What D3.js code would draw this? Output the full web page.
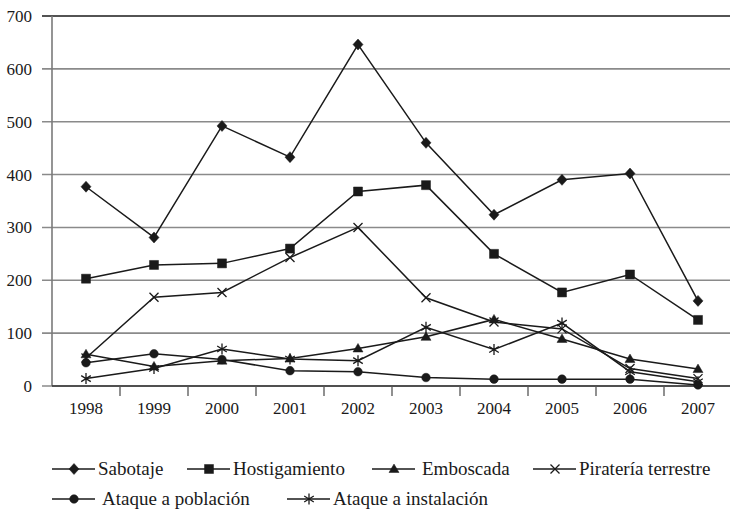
<!DOCTYPE html>
<html>
<head>
<meta charset="utf-8">
<script src="https://cdn.jsdelivr.net/npm/d3@7"></script>
<style>
    body { margin: 0; background: white; }
    svg { display: block; }
</style>
</head>
<body>
<div id="holder"></div>
<script>
const years = ["1998", "1999", "2000", "2001", "2002", "2003", "2004", "2005", "2006", "2007"];
const yTicks = [0, 100, 200, 300, 400, 500, 600, 700];

const sabotaje = [377, 281, 492, 433, 646, 460, 324, 390, 402, 161];
const hostigamiento = [203, 229, 232, 260, 368, 380, 250, 177, 211, 125];
const emboscada = [60, 37, 48, 52, 71, 93, 126, 89, 51, 32];
const pirateria = [53, 168, 177, 243, 300, 167, 121, 108, 33, 14];
const poblacion = [44, 61, 50, 29, 27, 16, 13, 13, 13, 2];
const instalacion = [14, 33, 70, 51, 48, 111, 69, 119, 27, 8];

const seriesNames = ["Sabotaje", "Hostigamiento", "Emboscada", "Piratería terrestre", "Ataque a población", "Ataque a instalación"];
const seriesValues = [sabotaje, hostigamiento, emboscada, pirateria, poblacion, instalacion];

const width = 730;
const height = 510;
const plotLeft = 52;
const plotRight = 732;
const plotTop = 16;
const plotBottom = 386;
const serif = "Liberation Serif";

// custom marker shapes
const diamond = {
    draw(ctx, size) {
        ctx.moveTo(0, -5.5); ctx.lineTo(5, 0); ctx.lineTo(0, 5.5); ctx.lineTo(-5, 0); ctx.closePath();
    }
};
const square = {
    draw(ctx, size) {
        ctx.rect(-4.5, -4.5, 9, 9);
    }
};
const triangle = {
    draw(ctx, size) {
        ctx.moveTo(0, -5); ctx.lineTo(5, 3.5); ctx.lineTo(-5, 3.5); ctx.closePath();
    }
};
const circle = {
    draw(ctx, size) {
        ctx.moveTo(4.3, 0); ctx.arc(0, 0, 4.3, 0, 2 * Math.PI);
    }
};
const cross = {
    draw(ctx, size) {
        ctx.moveTo(-4.5, -4.5); ctx.lineTo(4.5, 4.5);
        ctx.moveTo(4.5, -4.5); ctx.lineTo(-4.5, 4.5);
    }
};
const star = {
    draw(ctx, size) {
        ctx.moveTo(0, -5.5); ctx.lineTo(0, 5.5);
        ctx.moveTo(-4.8, -3); ctx.lineTo(4.8, 3);
        ctx.moveTo(4.8, -3); ctx.lineTo(-4.8, 3);
    }
};
const markers = [
    { type: diamond, filled: true },
    { type: square, filled: true },
    { type: triangle, filled: true },
    { type: cross, filled: false },
    { type: circle, filled: true },
    { type: star, filled: false }
];

const xScale = d3.scaleBand()
                .domain(years)
                .range([plotLeft, plotRight]);
const yScale = d3.scaleLinear()
                .domain([0, 700])
                .range([plotBottom, plotTop]);

const svg = d3.select("#holder")
    .append("svg")
    .attr("width", width)
    .attr("height", height);

// gridlines
svg.append("g")
    .selectAll("line")
    .data(yTicks)
    .enter()
    .append("line")
    .attr("x1", plotLeft - 10)
    .attr("x2", width)
    .attr("y1", (d) => yScale(d))
    .attr("y2", (d) => yScale(d))
    .attr("stroke", (d) => d === 700 ? "#1a1a1a" : "#8a8a8a")
    .attr("stroke-width", (d) => d === 700 ? 1.3 : 1.6);

// y axis
const yAxis = d3.axisLeft(yScale)
                .tickValues(yTicks)
                .tickSize(10)
                .tickPadding(10);
svg.append("g")
    .attr("transform", `translate(${plotLeft}, 0)`)
    .call(yAxis)
    .call((g) => g.select(".domain").remove())
    .call((g) => g.selectAll(".tick line").remove())
    .call((g) => g.selectAll("text")
        .style("font-family", serif)
        .style("font-size", "17px")
        .attr("fill", "#1a1a1a"));

svg.append("line")
    .attr("x1", plotLeft)
    .attr("x2", plotLeft)
    .attr("y1", plotTop)
    .attr("y2", plotBottom)
    .attr("stroke", "#7a7a7a")
    .attr("stroke-width", 1.6);

// x axis
const xAxis = d3.axisBottom(xScale).tickSize(0).tickPadding(16);
svg.append("g")
    .attr("transform", `translate(0, ${plotBottom})`)
    .call(xAxis)
    .call((g) => g.select(".domain").remove())
    .call((g) => g.selectAll("text")
        .style("font-family", serif)
        .style("font-size", "17px")
        .attr("fill", "#1a1a1a"));

svg.append("line")
    .attr("x1", plotLeft)
    .attr("x2", width)
    .attr("y1", plotBottom)
    .attr("y2", plotBottom)
    .attr("stroke", "#333")
    .attr("stroke-width", 1.3);

svg.append("g")
    .selectAll("line")
    .data(years.slice(1))
    .enter()
    .append("line")
    .attr("x1", (d) => xScale(d))
    .attr("x2", (d) => xScale(d))
    .attr("y1", plotBottom)
    .attr("y2", plotBottom + 10)
    .attr("stroke", "#555")
    .attr("stroke-width", 1.3);

// series
const line = d3.line()
    .x((d, i) => xScale(years[i]) + xScale.bandwidth() / 2)
    .y((d) => yScale(d));

seriesValues.forEach((values, s) => {
    svg.append("path")
        .datum(values)
        .attr("d", line)
        .attr("fill", "none")
        .attr("stroke", "#1a1a1a")
        .attr("stroke-width", 1.5);

    svg.append("g")
        .selectAll("path")
        .data(values)
        .enter()
        .append("path")
        .attr("d", d3.symbol().type(markers[s].type))
        .attr("transform", (d, i) => `translate(${xScale(years[i]) + xScale.bandwidth() / 2}, ${yScale(d)})`)
        .attr("fill", markers[s].filled ? "#1a1a1a" : "none")
        .attr("stroke", "#1a1a1a")
        .attr("stroke-width", markers[s].filled ? 0.5 : 1.3);
});

// legend
const legendPos = [
    [52, 469], [187, 469], [372, 469], [533, 469],
    [52, 499], [287, 499]
];
seriesNames.forEach((name, s) => {
    const g = svg.append("g")
        .attr("transform", `translate(${legendPos[s][0]}, ${legendPos[s][1]})`);
    g.append("line")
        .attr("x1", 0)
        .attr("x2", 43)
        .attr("y1", 0)
        .attr("y2", 0)
        .attr("stroke", "#1a1a1a")
        .attr("stroke-width", 1.5);
    g.append("path")
        .attr("d", d3.symbol().type(markers[s].type))
        .attr("transform", "translate(22, 0)")
        .attr("fill", markers[s].filled ? "#1a1a1a" : "none")
        .attr("stroke", "#1a1a1a")
        .attr("stroke-width", markers[s].filled ? 0.5 : 1.3);
    g.append("text")
        .attr("x", s === 2 || s === 4 ? 50 : 46)
        .attr("y", 6)
        .style("font-family", serif)
        .style("font-size", "19px")
        .attr("fill", "#1a1a1a")
        .text(name);
});
</script>
</body>
</html>
